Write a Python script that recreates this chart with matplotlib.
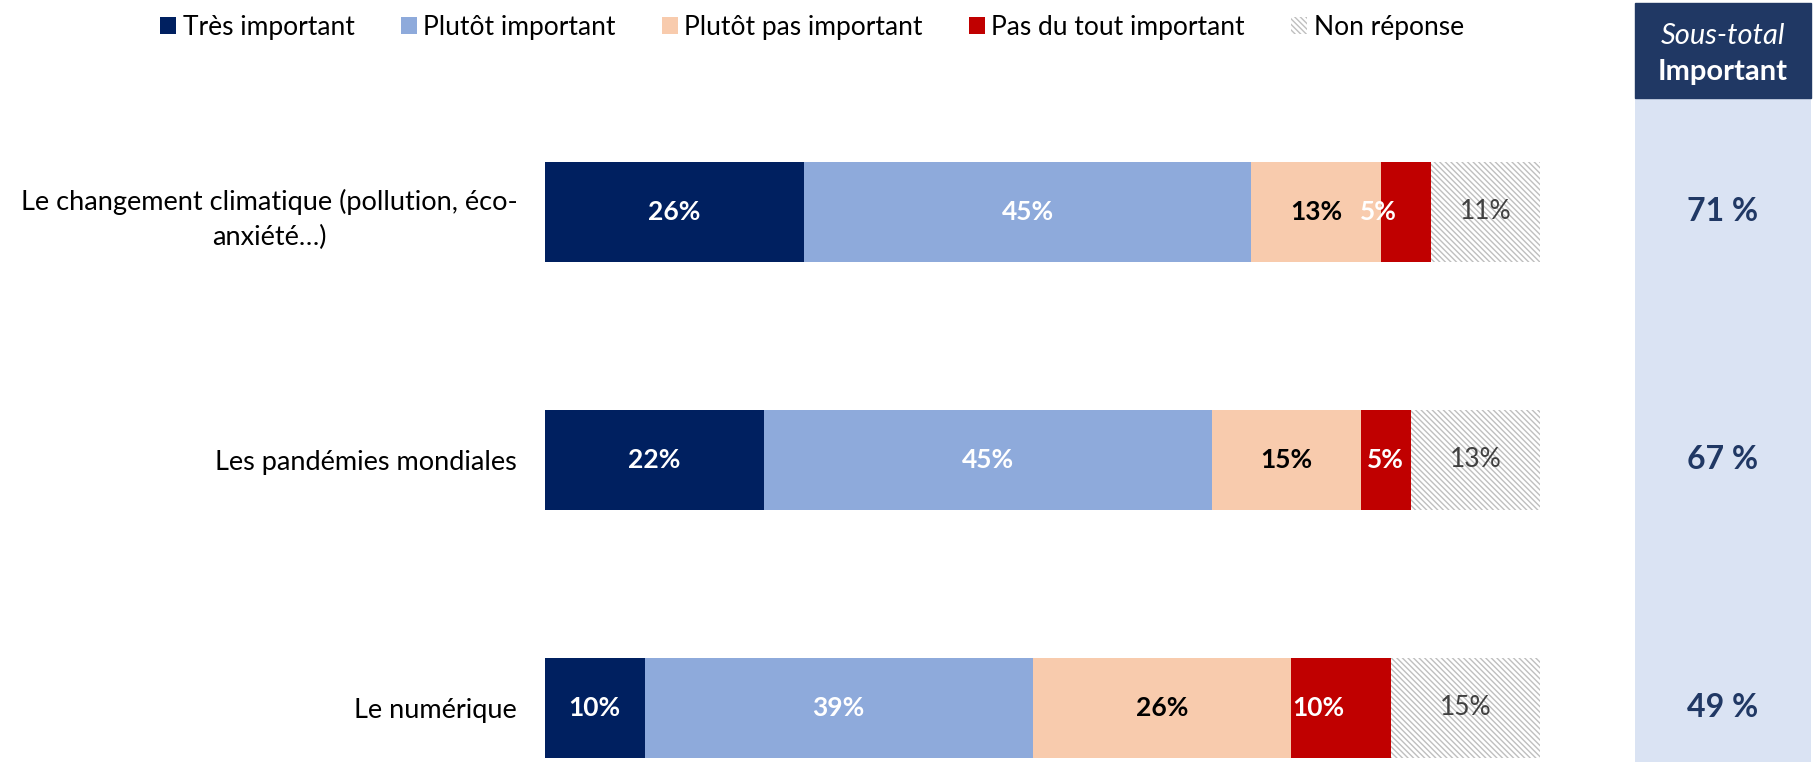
import matplotlib.pyplot as plt
from matplotlib.patches import Patch, Rectangle

plt.rcParams['font.family'] = ['Lato', 'DejaVu Sans']
plt.rcParams['hatch.linewidth'] = 1.0

categories = ['Le changement climatique (pollution, éco-\nanxiété…)',
              'Les pandémies mondiales',
              'Le numérique']
series = ['Très important', 'Plutôt important', 'Plutôt pas important',
          'Pas du tout important', 'Non réponse']
tres = [26, 22, 10]
plutot = [45, 45, 39]
plutot_pas = [13, 15, 26]
pas_du_tout = [5, 5, 10]
non_reponse = [11, 13, 15]
sous_total = ['71 %', '67 %', '49 %']

values = [tres, plutot, plutot_pas, pas_du_tout, non_reponse]
colors = ['#002060', '#8EAADB', '#F8CBAD', '#C00000', 'white']
label_colors = ['white', 'white', 'black', 'white', '#404040']
label_weights = ['bold', 'bold', 'bold', 'bold', 'normal']
# small horizontal nudges (points) where the labels sit off-centre
nudge = {(3, 0): -20, (3, 2): -16}

W, H = 1814, 762
fig = plt.figure(figsize=(W / 100, H / 100), dpi=100)

top_px = 88
ax = fig.add_axes([545 / W, 0, (1540 - 545) / W, 1 - top_px / H])
ypos = list(range(len(categories)))
left = [0] * len(categories)
for i, vals in enumerate(values):
    if i == 4:
        ax.barh(ypos, vals, left=left, height=0.40, color='white',
                edgecolor='#BFBFBF', linewidth=0, hatch='\\\\\\\\\\\\')
    else:
        ax.barh(ypos, vals, left=left, height=0.40, color=colors[i], linewidth=0)
    for j, v in enumerate(vals):
        ax.annotate(f'{v}%', (left[j] + v / 2, ypos[j]),
                    xytext=(nudge.get((i, j), 0), 0), textcoords='offset points',
                    ha='center', va='center', fontsize=19,
                    color=label_colors[i], fontweight=label_weights[i])
    left = [a + b for a, b in zip(left, vals)]

ax.set_xlim(0, 100)
ax.set_ylim(2.218, -0.5)
ax.set_yticks(ypos)
ax.set_yticklabels(categories, fontsize=19.5, multialignment='center',
                   linespacing=1.5)
ax.tick_params(axis='y', length=0, pad=20)
ax.set_xticks([])
for s in ax.spines.values():
    s.set_visible(False)

# side panel
side = fig.add_axes([1635 / W, 0, (1811 - 1635) / W, 1 - 98 / H])
side.set_facecolor('#DAE3F3')
side.set_xlim(0, 1)
side.set_ylim(2.218, -0.5 + (98 - top_px) / 248)
for j, t in enumerate(sous_total):
    side.text(0.5, ypos[j], t, ha='center', va='center', fontsize=23,
              fontweight='bold', color='#203864')
side.set_xticks([])
side.set_yticks([])
for s in side.spines.values():
    s.set_visible(False)

fig.patches.append(Rectangle((1635 / W, 1 - 98 / H), (1811 - 1635) / W, 95 / H,
                             transform=fig.transFigure, color='#203864'))
fig.text(1723 / W, 1 - 36 / H, 'Sous-total', ha='center', va='center',
         fontsize=21, style='italic', color='white')
fig.text(1723 / W, 1 - 72 / H, 'Important', ha='center', va='center',
         fontsize=21, fontweight='bold', color='white')

handles = []
for i, name in enumerate(series):
    if i == 4:
        handles.append(Patch(facecolor='white', edgecolor='#BFBFBF', linewidth=0,
                             hatch='\\\\\\\\\\\\', label=name))
    else:
        handles.append(Patch(facecolor=colors[i], label=name))
fig.legend(handles=handles, loc='center', bbox_to_anchor=(812 / W, 1 - 27 / H),
           ncol=5, frameon=False, fontsize=19, handlelength=0.6, handleheight=0.6,
           handletextpad=0.25, columnspacing=1.75)

fig.savefig('out.png', dpi=100)
